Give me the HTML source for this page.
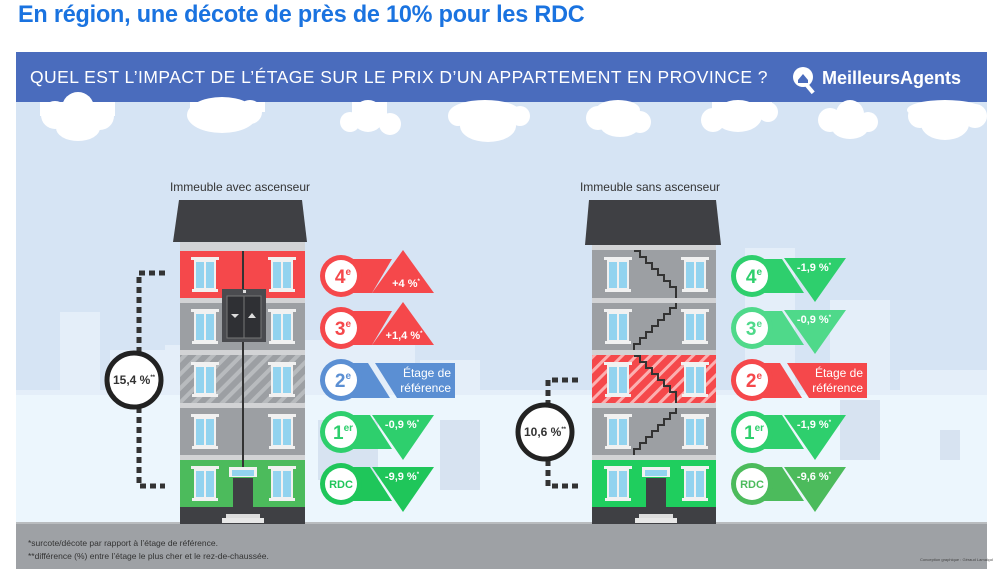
<!DOCTYPE html>
<html><head><meta charset="utf-8"><style>
body{margin:0;background:#fff;width:1001px;height:583px;overflow:hidden;position:relative;font-family:"Liberation Sans",sans-serif}
.t{position:absolute;left:18px;top:1px;font-size:24px;font-weight:bold;color:#1a73e0;letter-spacing:-0.2px;font-family:"Liberation Sans",sans-serif;transform:scaleX(0.975);transform-origin:left}
svg{position:absolute;left:0;top:0}
</style></head><body>
<div class="t">En région, une décote de près de 10% pour les RDC</div>
<svg width="1001" height="583" viewBox="0 0 1001 583" font-family="Liberation Sans, sans-serif">
<defs>
<pattern id="hg" width="10" height="10" patternUnits="userSpaceOnUse" patternTransform="rotate(45)"><rect width="10" height="10" fill="#9c9fa3"/><rect width="4" height="10" fill="#b8bbbe"/></pattern>
<pattern id="hr" width="10" height="10" patternUnits="userSpaceOnUse" patternTransform="rotate(45)"><rect width="10" height="10" fill="#f5484b"/><rect width="3" height="10" fill="#fbb0b1"/></pattern>
<g id="win"><rect x="-2" y="0" width="28" height="3" fill="#f1f1f1"/><rect x="1" y="3" width="22" height="29" fill="#f1f1f1"/><rect x="3" y="5" width="8" height="26" fill="#92d3ef"/><rect x="13" y="5" width="8" height="26" fill="#92d3ef"/><rect x="-1" y="32" width="26" height="3" fill="#f1f1f1"/></g>
</defs>
<rect x="16" y="52" width="971" height="517" fill="#d6e4f4"/>
<rect x="16" y="52" width="971" height="50" fill="#4a6cbd"/>
<text x="30" y="83" fill="#fff" font-size="17.5" letter-spacing="0.45">QUEL EST L’IMPACT DE L’ÉTAGE SUR LE PRIX D’UN APPARTEMENT EN PROVINCE ?</text>
<circle cx="803" cy="77" r="10" fill="#fff"/><rect x="808" y="84" width="4" height="10" fill="#fff" transform="rotate(-40 810 89)"/><path d="M798 80 L803 74 L808 80 L808 83 L798 83Z" fill="#4a6cbd"/>
<text x="822" y="84" fill="#fff" font-size="18" font-weight="bold">MeilleursAgents</text>
<g fill="#fff">
<circle cx="55" cy="115" r="14"/><circle cx="78" cy="108" r="16"/><circle cx="100" cy="116" r="14"/><ellipse cx="78" cy="128" rx="22" ry="13"/><rect x="40" y="102" width="75" height="14"/>
<ellipse cx="222" cy="115" rx="35" ry="18"/><circle cx="250" cy="112" r="12"/><rect x="190" y="102" width="75" height="10"/>
<circle cx="350" cy="122" r="10"/><circle cx="368" cy="116" r="16"/><circle cx="390" cy="124" r="11"/><rect x="352" y="102" width="35" height="14"/>
<ellipse cx="485" cy="112" rx="35" ry="12"/><ellipse cx="488" cy="126" rx="28" ry="16"/><circle cx="458" cy="116" r="10"/><circle cx="520" cy="116" r="10"/>
<circle cx="598" cy="118" r="12"/><ellipse cx="618" cy="110" rx="22" ry="10"/><circle cx="640" cy="122" r="11"/><ellipse cx="620" cy="125" rx="20" ry="12"/>
<circle cx="713" cy="120" r="12"/><ellipse cx="738" cy="116" rx="24" ry="16"/><circle cx="768" cy="112" r="10"/><rect x="712" y="102" width="60" height="10"/>
<circle cx="830" cy="120" r="12"/><circle cx="850" cy="114" r="14"/><circle cx="868" cy="122" r="10"/><ellipse cx="850" cy="128" rx="18" ry="11"/>
<ellipse cx="945" cy="110" rx="38" ry="10"/><circle cx="920" cy="116" r="12"/><circle cx="975" cy="116" r="12"/><ellipse cx="945" cy="124" rx="24" ry="16"/>
</g>
<g fill="#e4eef9">
<rect x="60" y="312" width="40" height="212"/><rect x="110" y="350" width="70" height="174"/><rect x="165" y="345" width="50" height="180"/>
<rect x="300" y="340" width="115" height="184"/><rect x="420" y="360" width="60" height="164"/>
<rect x="745" y="248" width="50" height="276"/><rect x="830" y="300" width="60" height="224"/><rect x="900" y="370" width="87" height="154"/>
<rect x="16" y="390" width="971" height="134"/>
</g>
<g fill="#ecf6fd"><rect x="16" y="395" width="971" height="129"/></g>
<g fill="#d7e3f1"><rect x="318" y="420" width="60" height="60"/><rect x="440" y="420" width="40" height="70"/><rect x="840" y="400" width="40" height="60"/><rect x="940" y="430" width="20" height="30"/></g>
<rect x="16" y="524" width="971" height="45" fill="#9ea1a5"/>
<rect x="16" y="522" width="971" height="2" fill="#b9bcbf"/>
<text x="28" y="546" font-size="8.5" fill="#333">*surcote/décote par rapport à l’étage de référence.</text>
<text x="28" y="559" font-size="8.5" fill="#333">**différence (%) entre l’étage le plus cher et le rez-de-chaussée.</text>
<text x="920" y="561" font-size="4" fill="#444">Conception graphique : Géraud Lamaiçol</text>

<text x="240" y="191" text-anchor="middle" font-size="12" fill="#333">Immeuble avec ascenseur</text>
<path d="M179 200 L302 200 L307 242 L173 242Z" fill="#3f4044"/>
<rect x="180" y="242" width="125" height="282" fill="#d2d3d5"/>
<rect x="180" y="251" width="125" height="47" fill="#f5484b"/>
<rect x="180" y="303" width="125" height="47" fill="#9c9fa3"/>
<rect x="180" y="355" width="125" height="48" fill="url(#hg)"/>
<rect x="180" y="408" width="125" height="47" fill="#9c9fa3"/>
<rect x="180" y="460" width="125" height="47" fill="#4cbb5c"/>
<rect x="180" y="507" width="125" height="17" fill="#3f4044"/>
<use href="#win" x="193" y="257"/><use href="#win" x="270" y="257"/>
<use href="#win" x="193" y="309"/><use href="#win" x="270" y="309"/>
<use href="#win" x="193" y="362"/><use href="#win" x="270" y="362"/>
<use href="#win" x="193" y="414"/><use href="#win" x="270" y="414"/>
<use href="#win" x="193" y="466"/><use href="#win" x="270" y="466"/>
<rect x="229" y="467" width="28" height="10" fill="#f1f1f1"/><rect x="232" y="470" width="22" height="6" fill="#92d3ef"/>
<rect x="233" y="478" width="20" height="46" fill="#3f4044"/>
<rect x="226" y="514" width="34" height="4" fill="#ddd"/><rect x="222" y="518" width="42" height="5" fill="#e8e8e8"/>
<rect x="242" y="251" width="2" height="216" fill="#333"/>
<rect x="222" y="289" width="44" height="53" fill="#4a4b4f"/><rect x="227" y="296" width="34" height="42" fill="#2f3034" stroke="#777" stroke-width="1"/>
<line x1="244" y1="296" x2="244" y2="338" stroke="#777"/>
<path d="M231 314 L239 314 L235 318Z" fill="#ddd"/><path d="M248 318 L256 318 L252 313Z" fill="#ddd"/>
<rect x="243" y="290" width="3" height="3" fill="#ddd"/>
<path d="M165 273 L139 273 L139 486 L165 486" fill="none" stroke="#333" stroke-width="5" stroke-dasharray="6 4"/>
<circle cx="134" cy="380" r="27" fill="#fff" stroke="#222" stroke-width="5"/>
<text x="134" y="384" text-anchor="middle" font-size="12" font-weight="bold" fill="#333">15,4 %<tspan font-size="6" dy="-5">**</tspan></text>

<path d="M340 259 L392 259 L372 293 L340 293Z" fill="#f5484b"/>
<path d="M372 293 L403 250 L434 293Z" fill="#f5484b"/>
<circle cx="341" cy="276" r="21" fill="#f5484b"/><circle cx="341" cy="276" r="16" fill="#fff"/>
<text x="343" y="283" text-anchor="middle" font-size="19" font-weight="bold" fill="#f5484b">4<tspan font-size="10" dy="-8">e</tspan></text>
<text x="406" y="287" text-anchor="middle" font-size="11" font-weight="bold" fill="#fff">+4 %<tspan font-size="6" dy="-4">*</tspan></text>
<path d="M340 311 L392 311 L372 345 L340 345Z" fill="#f5484b"/>
<path d="M372 345 L403 302 L434 345Z" fill="#f5484b"/>
<circle cx="341" cy="328" r="21" fill="#f5484b"/><circle cx="341" cy="328" r="16" fill="#fff"/>
<text x="343" y="335" text-anchor="middle" font-size="19" font-weight="bold" fill="#f5484b">3<tspan font-size="10" dy="-8">e</tspan></text>
<text x="404" y="339" text-anchor="middle" font-size="11" font-weight="bold" fill="#fff">+1,4 %<tspan font-size="6" dy="-4">*</tspan></text>
<path d="M340 363 L368 363 L390 398 L340 398Z" fill="#5b8fd3"/>
<path d="M375 363 L455 363 L455 398 L397 398Z" fill="#5b8fd3"/>
<circle cx="341" cy="380" r="21" fill="#5b8fd3"/><circle cx="341" cy="380" r="16" fill="#fff"/>
<text x="343" y="387" text-anchor="middle" font-size="19" font-weight="bold" fill="#5b8fd3">2<tspan font-size="10" dy="-8">e</tspan></text>
<text x="451" y="377" text-anchor="end" font-size="12" fill="#fff">Étage de</text>
<text x="451" y="392" text-anchor="end" font-size="12" fill="#fff">référence</text>
<path d="M340 415 L370 415 L392 449 L340 449Z" fill="#2ecf6d"/>
<path d="M372 415 L434 415 L403 460Z" fill="#2ecf6d"/>
<circle cx="341" cy="432" r="21" fill="#2ecf6d"/><circle cx="341" cy="432" r="16" fill="#fff"/>
<text x="343" y="439" text-anchor="middle" font-size="19" font-weight="bold" fill="#2ecf6d">1<tspan font-size="10" dy="-8">er</tspan></text>
<text x="402" y="428" text-anchor="middle" font-size="11" font-weight="bold" fill="#fff">-0,9 %<tspan font-size="6" dy="-4">*</tspan></text>
<path d="M340 467 L370 467 L392 501 L340 501Z" fill="#1fc65a"/>
<path d="M372 467 L434 467 L403 512Z" fill="#1fc65a"/>
<circle cx="341" cy="484" r="21" fill="#1fc65a"/><circle cx="341" cy="484" r="16" fill="#fff"/>
<text x="341" y="488" text-anchor="middle" font-size="11" font-weight="bold" fill="#1fc65a">RDC</text>
<text x="402" y="480" text-anchor="middle" font-size="11" font-weight="bold" fill="#fff">-9,9 %<tspan font-size="6" dy="-4">*</tspan></text>

<text x="650" y="191" text-anchor="middle" font-size="12" fill="#333">Immeuble sans ascenseur</text>
<path d="M589 200 L716 200 L721 245 L585 245Z" fill="#3f4044"/>
<rect x="592" y="245" width="124" height="279" fill="#d2d3d5"/>
<rect x="592" y="250" width="124" height="48" fill="#9c9fa3"/>
<rect x="592" y="303" width="124" height="47" fill="#9c9fa3"/>
<rect x="592" y="355" width="124" height="48" fill="url(#hr)"/>
<rect x="592" y="408" width="124" height="47" fill="#9c9fa3"/>
<rect x="592" y="460" width="124" height="47" fill="#1fce5e"/>
<rect x="592" y="507" width="124" height="17" fill="#3f4044"/>
<use href="#win" x="606" y="257"/><use href="#win" x="683" y="257"/>
<use href="#win" x="606" y="309"/><use href="#win" x="683" y="309"/>
<use href="#win" x="606" y="362"/><use href="#win" x="683" y="362"/>
<use href="#win" x="606" y="414"/><use href="#win" x="683" y="414"/>
<use href="#win" x="606" y="466"/><use href="#win" x="683" y="466"/>
<rect x="642" y="467" width="28" height="10" fill="#f1f1f1"/><rect x="645" y="470" width="22" height="6" fill="#92d3ef"/>
<rect x="646" y="478" width="20" height="46" fill="#3f4044"/>
<rect x="639" y="514" width="34" height="4" fill="#ddd"/><rect x="635" y="518" width="42" height="5" fill="#e8e8e8"/>
<g fill="none" stroke="#333" stroke-width="2">
<path d="M634 251 L640 251 L640 257 L646 257 L646 263 L652 263 L652 269 L658 269 L658 275 L664 275 L664 281 L670 281 L670 287 L676 287 L676 298"/>
<path d="M634 350 L634 344 L640 344 L640 338 L646 338 L646 332 L652 332 L652 326 L658 326 L658 320 L664 320 L664 314 L670 314 L670 308 L676 308 L676 303"/>
<path d="M634 356 L640 356 L640 362 L646 362 L646 368 L652 368 L652 374 L658 374 L658 380 L664 380 L664 386 L670 386 L670 392 L676 392 L676 403"/>
<path d="M634 455 L634 449 L640 449 L640 443 L646 443 L646 437 L652 437 L652 431 L658 431 L658 425 L664 425 L664 419 L670 419 L670 413 L676 413 L676 408"/>
</g>
<path d="M578 380 L548 380 L548 486 L578 486" fill="none" stroke="#333" stroke-width="5" stroke-dasharray="6 4"/>
<circle cx="545" cy="432" r="27" fill="#fff" stroke="#222" stroke-width="5"/>
<text x="545" y="436" text-anchor="middle" font-size="12" font-weight="bold" fill="#333">10,6 %<tspan font-size="6" dy="-5">**</tspan></text>

<path d="M752 259 L782 259 L804 293 L752 293Z" fill="#2ecf6d"/>
<path d="M784 258 L846 258 L815 302Z" fill="#2ecf6d"/>
<circle cx="752" cy="276" r="21" fill="#2ecf6d"/><circle cx="752" cy="276" r="16" fill="#fff"/>
<text x="754" y="283" text-anchor="middle" font-size="19" font-weight="bold" fill="#2ecf6d">4<tspan font-size="10" dy="-8">e</tspan></text>
<text x="814" y="271" text-anchor="middle" font-size="11" font-weight="bold" fill="#fff">-1,9 %<tspan font-size="6" dy="-4">*</tspan></text>
<path d="M752 311 L782 311 L804 345 L752 345Z" fill="#4fd98a"/>
<path d="M784 310 L846 310 L815 354Z" fill="#4fd98a"/>
<circle cx="752" cy="328" r="21" fill="#4fd98a"/><circle cx="752" cy="328" r="16" fill="#fff"/>
<text x="754" y="335" text-anchor="middle" font-size="19" font-weight="bold" fill="#4fd98a">3<tspan font-size="10" dy="-8">e</tspan></text>
<text x="814" y="323" text-anchor="middle" font-size="11" font-weight="bold" fill="#fff">-0,9 %<tspan font-size="6" dy="-4">*</tspan></text>
<path d="M752 363 L780 363 L802 398 L752 398Z" fill="#f5484b"/>
<path d="M787 363 L867 363 L867 398 L809 398Z" fill="#f5484b"/>
<circle cx="752" cy="380" r="21" fill="#f5484b"/><circle cx="752" cy="380" r="16" fill="#fff"/>
<text x="754" y="387" text-anchor="middle" font-size="19" font-weight="bold" fill="#f5484b">2<tspan font-size="10" dy="-8">e</tspan></text>
<text x="863" y="377" text-anchor="end" font-size="12" fill="#fff">Étage de</text>
<text x="863" y="392" text-anchor="end" font-size="12" fill="#fff">référence</text>
<path d="M752 415 L782 415 L804 449 L752 449Z" fill="#2ecf6d"/>
<path d="M784 415 L846 415 L815 460Z" fill="#2ecf6d"/>
<circle cx="752" cy="432" r="21" fill="#2ecf6d"/><circle cx="752" cy="432" r="16" fill="#fff"/>
<text x="754" y="439" text-anchor="middle" font-size="19" font-weight="bold" fill="#2ecf6d">1<tspan font-size="10" dy="-8">er</tspan></text>
<text x="814" y="428" text-anchor="middle" font-size="11" font-weight="bold" fill="#fff">-1,9 %<tspan font-size="6" dy="-4">*</tspan></text>
<path d="M752 467 L782 467 L804 501 L752 501Z" fill="#4cbb5c"/>
<path d="M784 467 L846 467 L815 512Z" fill="#4cbb5c"/>
<circle cx="752" cy="484" r="21" fill="#4cbb5c"/><circle cx="752" cy="484" r="16" fill="#fff"/>
<text x="752" y="488" text-anchor="middle" font-size="11" font-weight="bold" fill="#4cbb5c">RDC</text>
<text x="814" y="480" text-anchor="middle" font-size="11" font-weight="bold" fill="#fff">-9,6 %<tspan font-size="6" dy="-4">*</tspan></text>
</svg>
</body></html>
